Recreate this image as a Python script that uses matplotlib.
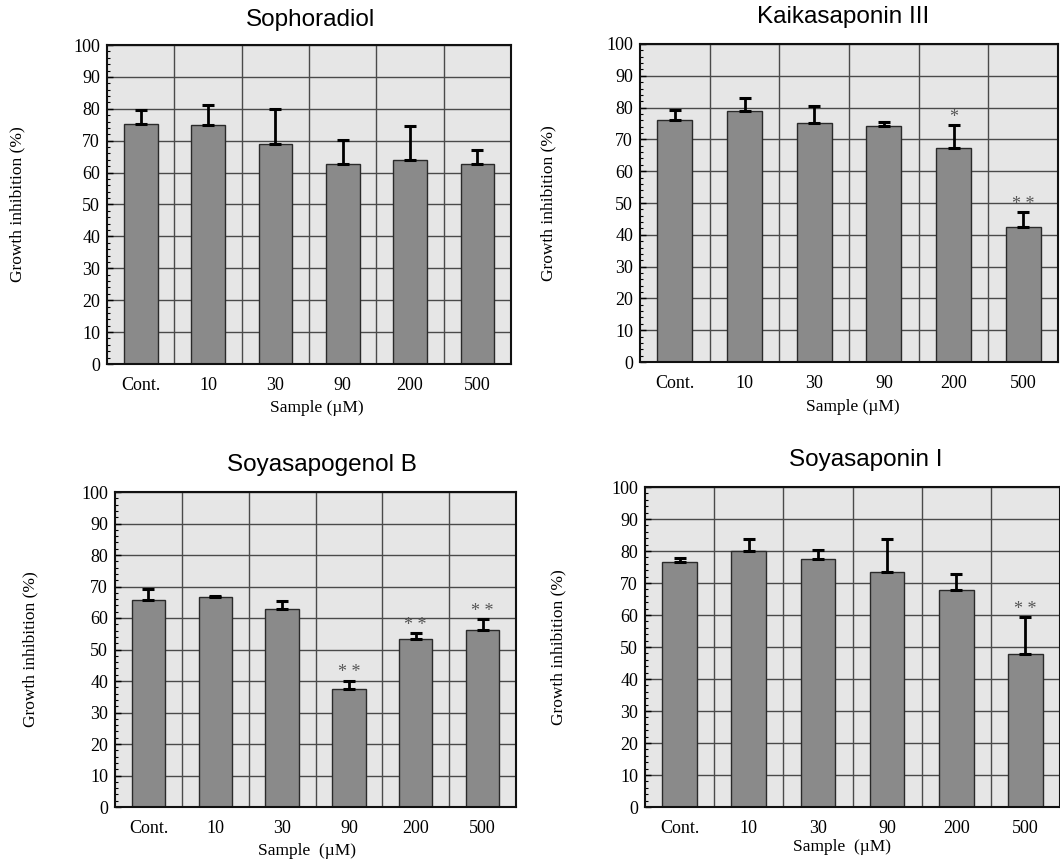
import matplotlib.pyplot as plt
import numpy as np

categories = ["Cont.", "10", "30", "90", "200", "500"]

sophoradiol_mean = [75.1, 74.8, 69.0, 62.8, 64.0, 62.8]
sophoradiol_err = [4.5, 6.3, 11.0, 7.4, 10.7, 4.4]
sophoradiol_sig = ["", "", "", "", "", ""]

kaikasaponin_mean = [76.2, 79.0, 75.2, 74.1, 67.2, 42.5]
kaikasaponin_err = [3.2, 4.1, 5.2, 1.3, 7.3, 4.7]
kaikasaponin_sig = ["", "", "", "", "*", "* *"]

soyasapogenol_mean = [65.6, 66.7, 62.9, 37.5, 53.4, 56.2]
soyasapogenol_err = [3.6, 0.2, 2.6, 2.6, 1.8, 3.5]
soyasapogenol_sig = ["", "", "", "* *", "* *", "* *"]

soyasaponin_mean = [76.5, 80.1, 77.6, 73.3, 67.9, 47.8]
soyasaponin_err = [1.4, 3.5, 2.6, 10.3, 5.0, 11.6]
soyasaponin_sig = ["", "", "", "", "", "* *"]

W, H = 1060, 863
fig = plt.figure(figsize=(W / 100, H / 100), dpi=100)

serif = ["Liberation Serif", "DejaVu Serif"]
sans = ["Liberation Sans", "DejaVu Sans"]


def px_axes(l, r, t, b):
    return fig.add_axes([l / W, 1 - b / H, (r - l) / W, (b - t) / H])


panels = [
    # title, means, errs, sig, axes box, title pos, ylabel x, xlabel pos, xlabel text
    ("Sophoradiol", sophoradiol_mean, sophoradiol_err, sophoradiol_sig,
     (107, 511, 45, 364), (311, 20), 17, (317, 408), "Sample (\u00b5M)"),
    ("Kaikasaponin III", kaikasaponin_mean, kaikasaponin_err, kaikasaponin_sig,
     (640, 1058, 44, 362), (843, 17), 548, (853, 407), "Sample (\u00b5M)"),
    ("Soyasapogenol B", soyasapogenol_mean, soyasapogenol_err, soyasapogenol_sig,
     (115, 516, 492, 807), (322, 465), 30, (307, 851), "Sample  (\u00b5M)"),
    ("Soyasaponin I", soyasaponin_mean, soyasaponin_err, soyasaponin_sig,
     (645, 1060, 487, 807), (866, 460), 558, (842, 847), "Sample  (\u00b5M)"),
]

for title, means, errs, sig, box, tpos, ylx, xlpos, xltext in panels:
    ax = px_axes(*box)
    x = np.arange(len(categories))
    ax.set_facecolor("#e6e6e6")
    ax.bar(x, means, width=0.5, color="#8a8a8a", edgecolor="#2a2a2a",
           linewidth=1.0, zorder=3)
    ax.errorbar(x, means, yerr=[np.zeros(len(errs)), errs], fmt="none",
                ecolor="black", elinewidth=2.0, capsize=4.5, capthick=2.2,
                zorder=4)
    for xi, m, e, s in zip(x, means, errs, sig):
        if s:
            ax.text(xi, m + e - 0.2, s, ha="center", va="bottom",
                    fontsize=13, color="#555555", family=serif)

    ax.set_xlim(-0.5, len(categories) - 0.5)
    ax.set_ylim(0, 100)
    ax.set_yticks(np.arange(0, 101, 10))
    ax.set_yticks(np.arange(0, 101, 2), minor=True)
    ax.set_xticks(x)
    ax.set_xticklabels(categories)
    ax.set_xticks(np.arange(0.5, len(categories) - 0.5, 1), minor=True)
    ax.grid(True, which="major", axis="y", color="#4a4a4a", linewidth=1.0, zorder=1)
    ax.grid(True, which="minor", axis="x", color="#4a4a4a", linewidth=1.0, zorder=1)
    ax.tick_params(axis="y", which="major", direction="in", length=4,
                   width=1, labelsize=13, pad=5)
    ax.tick_params(axis="y", which="minor", direction="in", length=2.5, width=0.8)
    ax.tick_params(axis="x", which="both", length=0, labelsize=13, pad=9)
    for lab in ax.get_xticklabels() + ax.get_yticklabels():
        lab.set_family(serif)
    for sp in ax.spines.values():
        sp.set_linewidth(1.5)
        sp.set_color("#111111")
        sp.set_zorder(5)

    fig.text(tpos[0] / W, 1 - tpos[1] / H, title, ha="center", va="center",
             fontsize=17.5, family=sans)
    cy = (box[2] + box[3]) / 2
    fig.text(ylx / W, 1 - cy / H, "Growth inhibition (%)", rotation=90,
             ha="center", va="center", fontsize=12.5, family=serif)
    fig.text(xlpos[0] / W, 1 - xlpos[1] / H, xltext, ha="center", va="center",
             fontsize=12.5, family=serif)

fig.savefig("out.png", dpi=100)
